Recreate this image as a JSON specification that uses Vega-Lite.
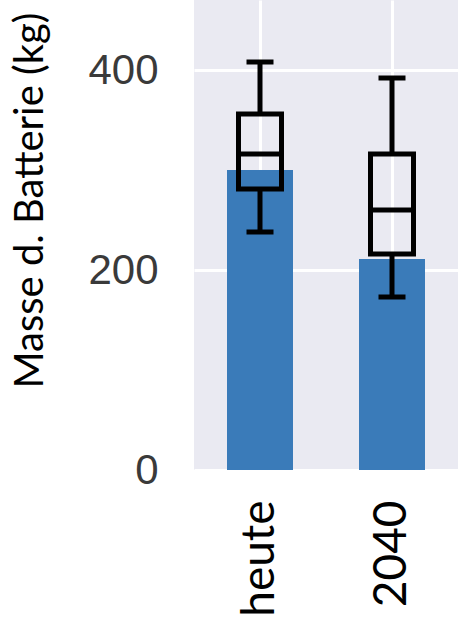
{
  "$schema": "https://vega.github.io/schema/vega-lite/v6.json",
  "autosize": "none",
  "width": 264,
  "height": 470,
  "padding": {"left": 194, "top": 0, "right": 0, "bottom": 152},
  "background": "white",
  "config": {
    "view": {"fill": "#EAEAF2", "stroke": null},
    "axis": {"gridColor": "white", "gridWidth": 3, "domain": false, "ticks": false}
  },
  "data": {
    "values": [
      {"zeit": "heute", "masse": 300, "min": 238, "q1": 281, "median": 316, "q3": 356, "max": 408},
      {"zeit": "2040", "masse": 211, "min": 173, "q1": 216, "median": 260, "q3": 316, "max": 392}
    ]
  },
  "encoding": {
    "x": {
      "field": "zeit",
      "type": "nominal",
      "sort": ["heute", "2040"],
      "scale": {"paddingInner": 0, "paddingOuter": 0},
      "axis": {
        "title": null,
        "labelAngle": -90,
        "labelAlign": "right",
        "labelBaseline": "middle",
        "labelFont": "Lato",
        "labelFontSize": 46,
        "labelColor": "black",
        "labelPadding": 30,
        "bandPosition": 0.5,
        "grid": true
      }
    }
  },
  "layer": [
    {
      "mark": {"type": "bar", "color": "#3A7BB9", "width": {"band": 0.5}},
      "encoding": {
        "y": {
          "field": "masse",
          "type": "quantitative",
          "scale": {"domain": [0, 470], "nice": false},
          "axis": {
            "title": "Masse d. Batterie (kg)",
            "titleFont": "Lato",
            "titleFontWeight": "normal",
            "titleFontSize": 40,
            "titleColor": "black",
            "titleAngle": -90,
            "titleAlign": "center",
            "titleBaseline": "bottom",
            "titleX": -144,
            "titleY": 200,
            "values": [0, 200, 400],
            "labelFont": "Liberation Sans",
            "labelFontSize": 42,
            "labelColor": "#3a3a3a",
            "labelPadding": 36
          }
        }
      }
    },
    {
      "mark": {"type": "rule", "color": "black", "strokeWidth": 5},
      "encoding": {
        "y": {"field": "min", "type": "quantitative"},
        "y2": {"field": "q1"}
      }
    },
    {
      "mark": {"type": "rule", "color": "black", "strokeWidth": 5},
      "encoding": {
        "y": {"field": "q3", "type": "quantitative"},
        "y2": {"field": "max"}
      }
    },
    {
      "mark": {"type": "bar", "fill": "white", "fillOpacity": 0, "stroke": "black", "strokeWidth": 5, "width": 43},
      "encoding": {
        "y": {"field": "q1", "type": "quantitative"},
        "y2": {"field": "q3"}
      }
    },
    {
      "mark": {"type": "tick", "color": "black", "opacity": 1, "size": 43, "thickness": 5},
      "encoding": {"y": {"field": "median", "type": "quantitative"}}
    },
    {
      "mark": {"type": "tick", "color": "black", "opacity": 1, "size": 27, "thickness": 5},
      "encoding": {"y": {"field": "min", "type": "quantitative"}}
    },
    {
      "mark": {"type": "tick", "color": "black", "opacity": 1, "size": 27, "thickness": 5},
      "encoding": {"y": {"field": "max", "type": "quantitative"}}
    }
  ]
}
